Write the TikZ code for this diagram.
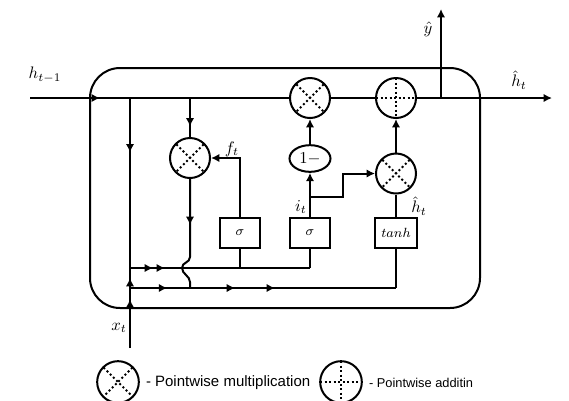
\documentclass[tikz,border=0pt]{standalone}
\usepackage{fontspec}
\newfontfamily\legendfont{Liberation Sans}
\usetikzlibrary{shapes.geometric,decorations.markings,arrows.meta}

\tikzset{
    dots/.style={line width=1.2pt, dash pattern=on 1.2pt off 1.5pt},
    mulop/.style={circle, draw, minimum size=24pt, inner sep=0pt,
        path picture={\draw [dots]
            (path picture bounding box.north west) -- (path picture bounding box.south east)
            (path picture bounding box.north east) -- (path picture bounding box.south west);}},
    addop/.style={circle, draw, minimum size=24pt, inner sep=0pt,
        path picture={\draw [dots]
            (path picture bounding box.north) -- (path picture bounding box.south)
            (path picture bounding box.west) -- (path picture bounding box.east);}},
    gate/.style={draw, rectangle, minimum width=24pt, minimum height=18pt, inner sep=1pt, font=\footnotesize},
    midarrow/.style={postaction={decorate, decoration={markings, mark=at position #1 with {\arrow{>}}}}}
}

\begin{document}
\begin{tikzpicture}[x=0.6pt, y=-0.6pt, line width=1.2pt, >={Latex[length=5pt,width=5pt]}]
        \useasboundingbox (0,0) rectangle (569,400);

        \draw [rounded corners=18pt] (90,68) rectangle (480,308);

        \coordinate (hin) at (30,98);
        \coordinate (lb) at (130,98);
        \coordinate (fb) at (190,98);
        \node [mulop] (mulc) at (310,98) {};
        \node [addop] (addc) at (396,98) {};
        \coordinate (yb) at (441,98);
        \coordinate (hout) at (552,98);
        \coordinate (yout) at (441,9);

        \node [mulop] (fmul) at (190,158) {};
        \node [ellipse, draw, minimum width=24.6pt, minimum height=16pt, inner sep=0pt] (onem) at (310,158.5) {$1-$};
        \node [mulop] (cmul) at (396,173.5) {};
        \node [gate] (sigf) at (240,233) {$\sigma$};
        \node [gate] (sigi) at (310,233) {$\sigma$};
        \node [gate, minimum width=25pt] (tanh) at (396,233) {$tanh$};

        \coordinate (xin) at (130,348);
        \coordinate (jA) at (130,268);
        \coordinate (jB) at (130,288);
        \coordinate (fA) at (240,268);
        \coordinate (iA) at (310,268);
        \coordinate (fB) at (190,288);
        \coordinate (tB) at (396,288);
        \coordinate (ib) at (310,197);
        \coordinate (is) at (343,197);

        \draw [midarrow=0.27] (hin) -- (mulc);
        \draw (mulc) -- (addc);
        \draw [->] (addc) -- (hout);
        \draw [->] (yb) -- (yout);

        \draw [midarrow=0.32] (lb) -- (jA);
        \draw [midarrow=0.61, midarrow=0.875] (xin) -- (jA);
        \draw [midarrow=0.128, midarrow=0.194] (jA) -- (iA);
        \draw [midarrow=0.14, midarrow=0.395, midarrow=0.545] (jB) -- (tB);

        \draw [midarrow=0.73] (fb) -- (fmul);
        \draw [midarrow=0.4] (fmul) -- (190,257) .. controls (190,263) and (182,262) .. (182,268)
            .. controls (182,274) and (190,276) .. (190,282) -- (fB);
        \draw [->] (sigf) |- (fmul);
        \draw (fA) -- (sigf);

        \draw (iA) -- (sigi);
        \draw [->] (sigi) -- (onem);
        \draw [->] (ib) -- (is) |- (cmul);
        \draw [->] (onem) -- (mulc);

        \draw (tB) -- (tanh);
        \draw (tanh) -- (cmul);
        \draw [->] (cmul) -- (addc);

        \node (hprev) at (45,75) {$h_{t-1}$};
        \node (hhat) at (519,80) {$\hat{h}_t$};
        \node (yhat) at (428,29) {$\hat{y}$};
        \node (ft) at (232,149) {$f_t$};
        \node (it) at (301,207) {$i_t$};
        \node (ht) at (419,206) {$\hat{h}_t$};
        \node (xt) at (119,328) {$x_t$};

        \node [mulop, minimum size=25pt] (legm) at (118,382) {};
        \node [anchor=west, inner sep=0pt, font=\legendfont\fontsize{9}{11}\selectfont] (legmt) at (145,383) {- Pointwise multiplication};
        \node [addop, minimum size=25pt] (lega) at (341,382) {};
        \node [anchor=west, inner sep=0pt, font=\legendfont\fontsize{7.7}{9}\selectfont] (legat) at (368,383) {- Pointwise additin};
    \end{tikzpicture}
\end{document}
